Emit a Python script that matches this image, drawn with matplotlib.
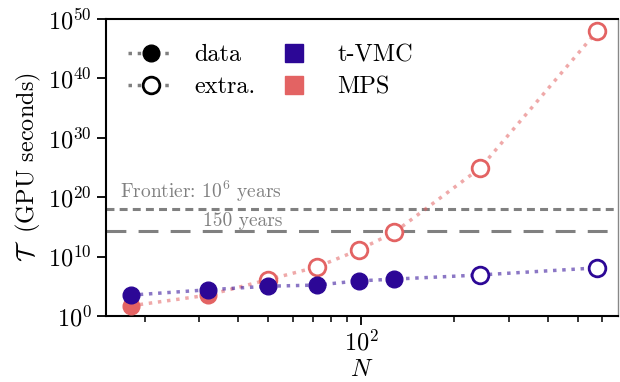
import matplotlib
import matplotlib.pyplot as plt
import matplotlib.ticker as mticker
import numpy as np
from matplotlib.lines import Line2D

matplotlib.use('agg')

plt.rcParams['font.family'] = 'serif'
plt.rcParams['font.serif'] = ['cmr10']
plt.rcParams['mathtext.fontset'] = 'cm'
plt.rcParams['axes.formatter.use_mathtext'] = True

# system sizes N = 2 L^2
N = [18, 32, 50, 72, 98, 128, 242, 578]
# log10 of time-to-solution in GPU seconds
tvmc_log = [3.5, 4.4, 5.0, 5.2, 5.9, 6.2, 6.9, 8.1]
mps_log = [1.7, 3.5, 6.1, 8.25, 11.1, 14.1, 24.9, 48.0]
tvmc_measured = [True, True, True, True, True, True, False, False]
mps_measured = [True, True, False, False, False, False, False, False]

frontier_1e6_years = 1.2e18
frontier_150_years = 1.8e14

c_tvmc = '#2c0796'
c_mps = '#e36363'

N = np.array(N)
tvmc = 10.0 ** np.array(tvmc_log)
mps = 10.0 ** np.array(mps_log)
tm = np.array(tvmc_measured)
mm = np.array(mps_measured)

fs = 17.5

fig = plt.figure(figsize=(6.2, 3.82), dpi=100)
ax = fig.add_axes([0.171, 0.173, 0.826, 0.777])

ax.axhline(frontier_1e6_years, color='#808080', lw=2.2, ls=(0, (2.6, 1.7)), zorder=1)
ax.axhline(frontier_150_years, color='#808080', lw=2.2, ls=(0, (6.5, 4.0)), zorder=1)
ax.text(0.344, 0.397, r'Frontier: $10^6$ years', transform=ax.transAxes,
        ha='right', va='baseline', color='#808080', fontsize=14)
ax.text(0.344, 0.303, '150 years', transform=ax.transAxes,
        ha='right', va='baseline', color='#808080', fontsize=14)

ms = 12
ax.plot(N, mps, ls=':', lw=2.5, color=c_mps, alpha=0.55, zorder=2)
ax.plot(N[mm], mps[mm], 'o', ms=ms, color=c_mps, zorder=3)
ax.plot(N[~mm], mps[~mm], 'o', ms=ms, mfc='white', mec=c_mps, mew=2, zorder=3)

ax.plot(N, tvmc, ls=':', lw=2.5, color=c_tvmc, alpha=0.55, zorder=4)
ax.plot(N[tm], tvmc[tm], 'o', ms=ms, color=c_tvmc, zorder=5)
ax.plot(N[~tm], tvmc[~tm], 'o', ms=ms, mfc='white', mec=c_tvmc, mew=2, zorder=5)

ax.set_xscale('log')
ax.set_yscale('log')
ax.set_xlim(15.0, 675)
ax.set_ylim(1, 1e50)
ax.set_yticks([10.0 ** k for k in range(0, 51, 10)])
ax.yaxis.set_minor_locator(mticker.NullLocator())
ax.xaxis.set_major_locator(mticker.FixedLocator([100]))
ax.xaxis.set_minor_locator(mticker.LogLocator(base=10, subs=np.arange(2, 10)))
ax.xaxis.set_minor_formatter(mticker.NullFormatter())

ax.tick_params(which='major', length=6.5, width=1.3, labelsize=fs)
ax.tick_params(which='minor', length=4, width=1.1)
for s in ['left', 'bottom', 'top']:
    ax.spines[s].set_linewidth(1.5)
ax.spines['right'].set_color('#888888')
ax.spines['right'].set_linewidth(1.0)

ax.set_xlabel('$N$', fontsize=fs, labelpad=2.5)
ax.set_ylabel(r'$\mathcal{T}$  (GPU seconds)', fontsize=fs)

handles = [
    Line2D([], [], ls=':', lw=2.5, color='#808080', marker='o', ms=ms,
           mfc='black', mec='black'),
    Line2D([], [], ls=':', lw=2.5, color='#808080', marker='o', ms=ms,
           mfc='white', mec='black', mew=2),
    Line2D([], [], ls='none', marker='s', ms=13, color=c_tvmc),
    Line2D([], [], ls='none', marker='s', ms=13, color=c_mps),
]
labels = ['data', 'extra.', 't-VMC', 'MPS']
ax.legend(handles, labels, ncol=2, loc='upper left', frameon=False,
          fontsize=fs, handlelength=1.9, handletextpad=0.85,
          columnspacing=0.6, labelspacing=0.42,
          bbox_to_anchor=(0.0, 0.99))

plt.savefig('out.png', dpi=100)
